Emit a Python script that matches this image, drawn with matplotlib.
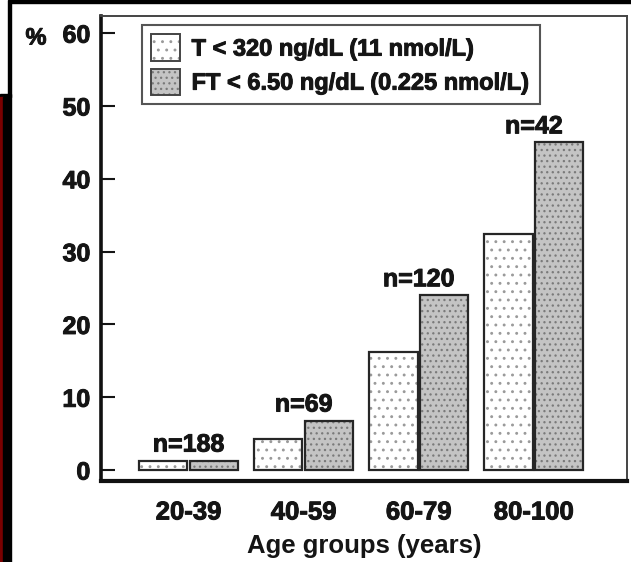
import matplotlib
matplotlib.use("Agg")
import matplotlib.pyplot as plt
from matplotlib.patches import Rectangle, Patch
import matplotlib.patheffects as pe
import numpy as np

# ---- data ----
groups = ['20-39', '40-59', '60-79', '80-100']
t_vals = [1.3, 4.3, 16.2, 32.4]
ft_vals = [1.3, 6.8, 24.0, 45.0]
n_labels = ['n=188', 'n=69', 'n=120', 'n=42']
series_labels = ['T < 320 ng/dL (11 nmol/L)', 'FT < 6.50 ng/dL (0.225 nmol/L)']
yticks = [0, 10, 20, 30, 40, 50, 60]

plt.rcParams['font.family'] = ['Liberation Sans', 'DejaVu Sans']
plt.rcParams['font.weight'] = 'bold'
plt.rcParams['hatch.linewidth'] = 0.9

TXT = '#151515'
heavy = [pe.withStroke(linewidth=0.7, foreground=TXT)]

W, H = 631, 562
fig = plt.figure(figsize=(W / 100, H / 100), dpi=100)
ax = fig.add_axes([100.7 / W, 1 - 481 / H, (627 - 100.7) / W, (481 - 15.7) / H])

x = np.arange(len(groups))
width = 0.42
off = 0.22

t_face, t_hatch = 'white', '#9a9a9a'
ft_face, ft_hatch = '#c4c4c4', '#7a7a7a'
edge = '#262626'

ax.bar(x - off, t_vals, width, color=t_face, hatch='..', edgecolor=t_hatch, linewidth=0, zorder=2)
ax.bar(x - off, t_vals, width, fill=False, edgecolor=edge, linewidth=1.6, zorder=3)
ax.bar(x + off, ft_vals, width, color=ft_face, hatch='...', edgecolor=ft_hatch, linewidth=0, zorder=2)
ax.bar(x + off, ft_vals, width, fill=False, edgecolor=edge, linewidth=1.6, zorder=3)

for xi, v, lab in zip(x, ft_vals, n_labels):
    ax.annotate(lab, (xi, v), xytext=(0, 6.5), textcoords='offset points',
                ha='center', va='baseline', fontsize=18, fontweight='bold', color=TXT,
                path_effects=heavy)

ax.set_xlim(-0.763, 3.81)
ax.set_ylim(-1.5, 62.4)
ax.set_yticks(yticks)
ax.set_xticks(x)
ax.set_xticklabels(groups)
ax.tick_params(axis='y', direction='in', length=10, width=1.5, pad=7.5, labelsize=18, colors=TXT)
ax.tick_params(axis='x', length=0, pad=14, labelsize=18.5, colors=TXT)
for lab in ax.get_xticklabels() + ax.get_yticklabels():
    lab.set_fontweight('bold')
    lab.set_path_effects(heavy)

ax.spines['left'].set_linewidth(2.6)
ax.spines['bottom'].set_linewidth(3.0)
ax.spines['left'].set_color('#111')
ax.spines['bottom'].set_color('#111')
for s in ('top', 'right'):
    ax.spines[s].set_linewidth(1.4)
    ax.spines[s].set_color('#444')

ax.set_xlabel('Age groups (years)', fontsize=18.5, fontweight='bold', labelpad=7, color=TXT)
fig.text(36 / W, 1 - 38 / H, '%', fontsize=17, fontweight='bold', ha='center', va='center',
         color=TXT, path_effects=heavy)

h1 = (Patch(facecolor=t_face, hatch='..', edgecolor=t_hatch, linewidth=0),
      Patch(fill=False, edgecolor='#444', linewidth=1.4))
h2 = (Patch(facecolor=ft_face, hatch='...', edgecolor=ft_hatch, linewidth=0),
      Patch(fill=False, edgecolor='#444', linewidth=1.4))
leg = ax.legend([h1, h2], series_labels, loc='upper left',
                bbox_to_anchor=((142 - 100.7) / (627 - 100.7), (481 - 25) / (481 - 15.7)),
                borderaxespad=0, fancybox=False, framealpha=1, edgecolor='#555',
                prop={'size': 17, 'weight': 'bold'}, handlelength=1.2, handleheight=1.35,
                handletextpad=0.5, labelspacing=0.32, borderpad=0.4)
leg.get_frame().set_linewidth(1.5)
for t in leg.get_texts():
    t.set_color(TXT)
    t.set_path_effects(heavy)

# screenshot border artifacts
def frect(x0, y0, x1, y1, color):
    fig.patches.append(Rectangle((x0 / W, 1 - y1 / H), (x1 - x0) / W, (y1 - y0) / H,
                                 transform=fig.transFigure, color=color, zorder=10))

frect(10, 0, W, 2.5, 'black')
frect(8, 0, 11, 97, 'black')
frect(0, 94, 11, 97, 'black')
frect(0, 97, 3, H, '#7a0000')
frect(3, 97, 11, H, 'black')

fig.savefig('out.png', dpi=100)
